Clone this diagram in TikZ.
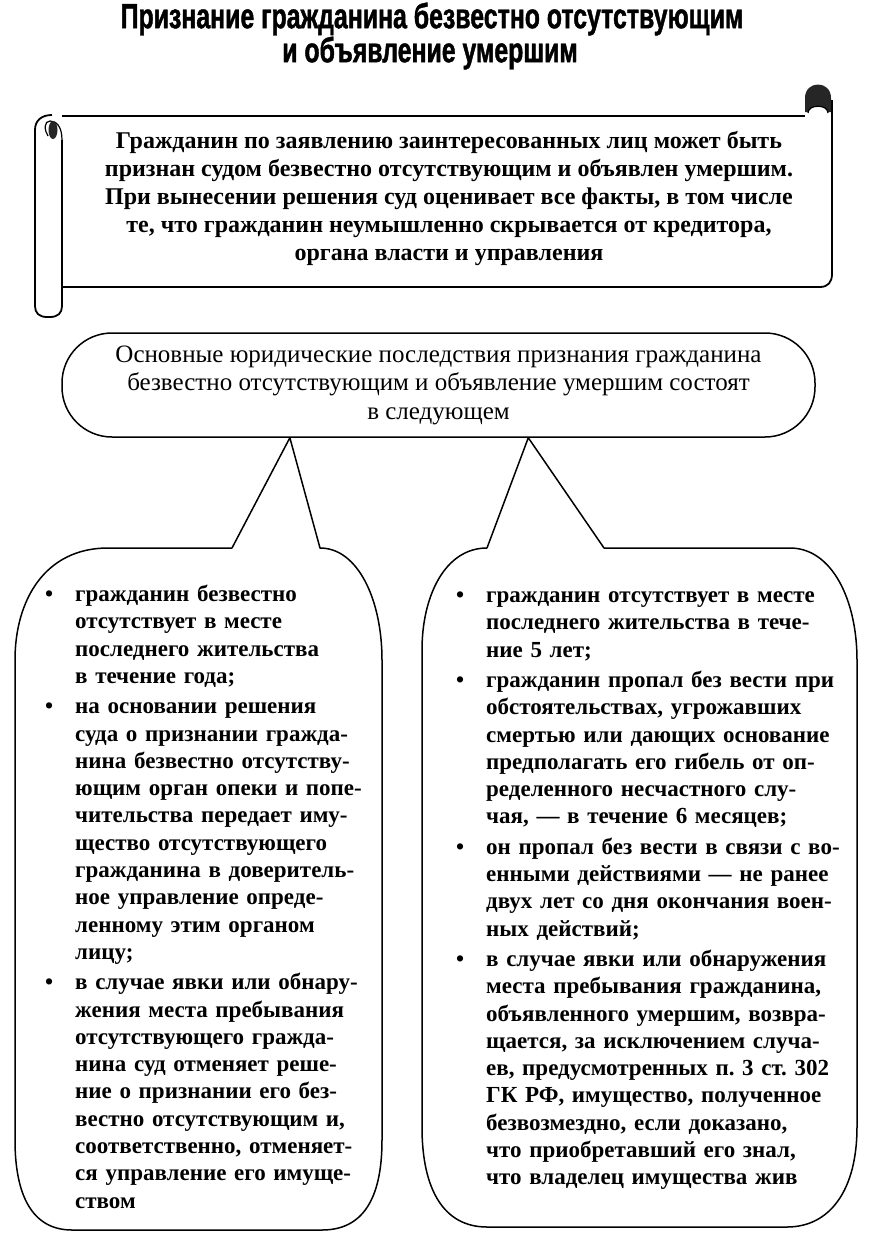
\documentclass[tikz,border=0pt]{standalone}
\usepackage{fontspec}
\setmainfont{Liberation Serif}
\newfontfamily\titlefont[FakeStretch=0.71,FakeBold=1.2]{Liberation Sans}
\usetikzlibrary{calc,positioning}
\newcommand{\bitem}{\par\hangindent=30pt\hangafter=1\noindent\makebox[30pt][l]{\textbullet}}
\newcommand{\nl}{\newline}
\tikzset{
  titletext/.style={
    inner sep=0pt,
    font=\titlefont\bfseries\fontsize{35}{29}\selectfont
  },
  scrolltext/.style={
    align=center,
    inner sep=0pt,
    font=\bfseries\fontsize{24}{28}\selectfont
  },
  ovalbox/.style={
    draw,
    line width=1.5pt,
    rounded corners=50pt,
    minimum width=753pt,
    minimum height=104pt,
    align=center,
    font=\fontsize{25}{28.5}\selectfont
  },
  itemtext/.style={
    anchor=north west,
    text width=350pt,
    inner sep=0pt,
    execute at begin node={\setlength{\parskip}{3pt}},
    font=\bfseries\fontsize{23}{27.3}\selectfont
  },
  bubble/.style={
    draw,
    line width=1.5pt,
    line join=round
  },
  scrollline/.style={
    draw,
    line width=1.8pt,
    line join=round
  }
}

\begin{document}
\begin{tikzpicture}[x=1pt,y=-1pt]
\useasboundingbox (0,0) rectangle (876,1250);

\node[titletext] (title) at (432,19) {Признание гражданина безвестно отсутствующим};
\node[titletext] (subtitle) at (430,53) {и объявление умершим};

% scroll
\draw[scrollline] (62,116) -- (805,116);
\draw[scrollline] (62,287) -- (820,287) .. controls (828,287) and (832,282) .. (832,274) -- (832,100);
\fill[black!85] (805,112) -- (805,98) .. controls (805,80) and (831,80) .. (831,98) -- (831,112) -- cycle;
\draw[line width=1.2pt, fill=white] (808,113) .. controls (808,104) and (828,104) .. (828,113);
\draw[scrollline] (62,140) -- (62,306) .. controls (62,313) and (58,317) .. (50,317) -- (47,317) .. controls (39,317) and (35,313) .. (35,306) -- (35,130) .. controls (35,120) and (42,115) .. (52,115);
\draw[line width=1.2pt] (62,140) .. controls (62,126) and (56,121) .. (50,121) .. controls (44,121) and (44,130) .. (48,136);
\fill[black!85] (53,130) ellipse [x radius=4.5, y radius=9];
\node[scrolltext] (fact) at (449,198) {Гражданин по заявлению заинтересованных лиц может быть\\
признан судом безвестно отсутствующим и объявлен умершим.\\
При вынесении решения суд оценивает все факты, в том числе\\
те, что гражданин неумышленно скрывается от кредитора,\\
органа власти и управления};

% consequences
\node[ovalbox] (oval) at (438.5,385) {Основные юридические последствия признания гражданина\\
безвестно отсутствующим и объявление умершим состоят\\
в следующем};
\coordinate (tipL) at ($(oval.south west)!0.303!(oval.south east)$);
\coordinate (tipR) at ($(oval.south west)!0.619!(oval.south east)$);

\draw[bubble] (232,548) -- (tipL) -- (320,548)
  .. controls (358,548) and (382,600) .. (382,660) -- (382,1140)
  .. controls (382,1200) and (362,1230) .. (322,1230) -- (72,1230)
  .. controls (32,1230) and (15,1195) .. (15,1140) -- (15,660)
  .. controls (15,600) and (45,548) .. (108,548) -- cycle;
\draw[bubble] (487,548) -- (tipR) -- (604,548) -- (790,548)
  .. controls (832,548) and (857,600) .. (857,660) -- (857,1127)
  .. controls (857,1190) and (830,1227) .. (787,1227) -- (487,1227)
  .. controls (444,1227) and (422,1190) .. (422,1127) -- (422,650)
  .. controls (422,596) and (445,548) .. (487,548);

\node[itemtext] (missing) at (45,571) {%
\bitem гражданин безвестно\nl отсутствует в месте\nl последнего жительства\nl в течение года;
\bitem на основании решения\nl суда о признании гражда-\nl нина безвестно отсутству-\nl ющим орган опеки и попе-\nl чительства передает иму-\nl щество отсутствующего\nl гражданина в доверитель-\nl ное управление опреде-\nl ленному этим органом\nl лицу;
\bitem в случае явки или обнару-\nl жения места пребывания\nl отсутствующего гражда-\nl нина суд отменяет реше-\nl ние о признании его без-\nl вестно отсутствующим и,\nl соответственно, отменяет-\nl ся управление его имуще-\nl ством\par};
\node[itemtext, text width=400pt] (dead) at (456,572) {%
\bitem гражданин отсутствует в месте\nl последнего жительства в тече-\nl ние 5 лет;
\bitem гражданин пропал без вести при\nl обстоятельствах, угрожавших\nl смертью или дающих основание\nl предполагать его гибель от оп-\nl ределенного несчастного слу-\nl чая,~--- в течение 6 месяцев;
\bitem он пропал без вести в связи с во-\nl енными действиями~--- не ранее\nl двух лет со дня окончания воен-\nl ных действий;
\bitem в случае явки или обнаружения\nl места пребывания гражданина,\nl объявленного умершим, возвра-\nl щается, за исключением случа-\nl ев, предусмотренных п.~3 ст.~302\nl ГК РФ, имущество, полученное\nl безвозмездно, если доказано,\nl что приобретавший его знал,\nl что владелец имущества жив\par};
\end{tikzpicture}
\end{document}
